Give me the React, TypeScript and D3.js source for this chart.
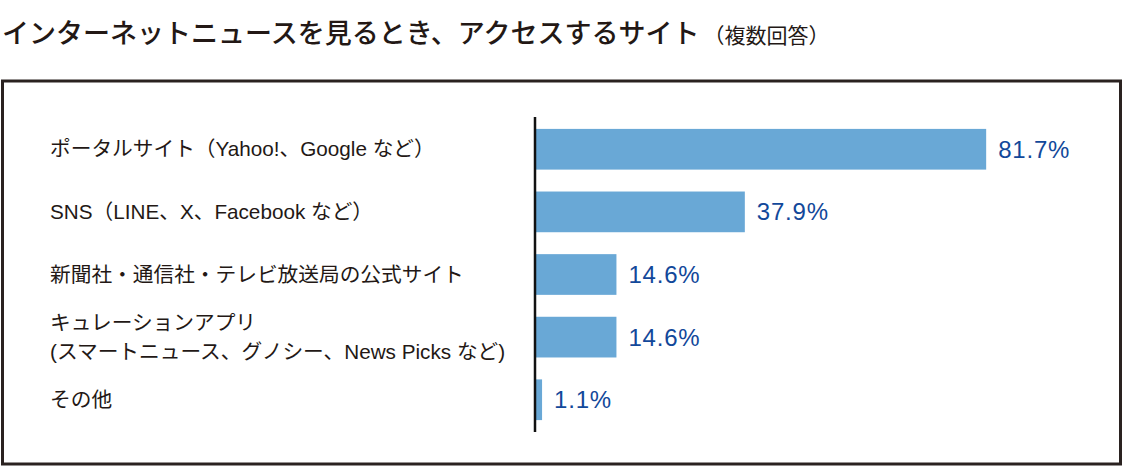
import React, { useEffect, useRef } from "react";
import * as d3 from "d3";

const categories = [
  "ポータルサイト（Yahoo!、Google など）",
  "SNS（LINE、X、Facebook など）",
  "新聞社・通信社・テレビ放送局の公式サイト",
  "キュレーションアプリ\n(スマートニュース、グノシー、News Picks など)",
  "その他",
];
const values = [81.7, 37.9, 14.6, 14.6, 1.1];

const title = "インターネットニュースを見るとき、アクセスするサイト";
const subtitle = "（複数回答）";

const App = () => {
  const svgRef = useRef<SVGSVGElement>(null);

  useEffect(() => {
    document.body.style.margin = "0";
    const svg = d3.select(svgRef.current);
    svg.selectAll("*").remove();

    const width = 1125;
    const height = 468;
    const jp = "'Noto Sans CJK JP', 'Noto Sans', sans-serif";
    const mixed = "'Liberation Sans', 'Noto Sans CJK JP', sans-serif";

    svg.append("rect").attr("width", width).attr("height", height).attr("fill", "#fff");

    // Title
    const t = svg
      .append("text")
      .attr("x", 2)
      .attr("y", 43)
      .attr("font-family", jp)
      .attr("font-weight", 500)
      .attr("fill", "#231815");
    t.append("tspan").attr("font-size", 27).text(title);
    t.append("tspan").attr("font-size", 21).attr("dx", 4).attr("font-weight", 400).text(subtitle);

    // Frame
    svg
      .append("rect")
      .attr("x", 2.5)
      .attr("y", 81)
      .attr("width", 1118)
      .attr("height", 383)
      .attr("fill", "none")
      .attr("stroke", "#2a2220")
      .attr("stroke-width", 3);

    // Scales
    const x = d3.scaleLinear().domain([0, 100]).range([536, 1087]);
    const y = d3
      .scaleBand()
      .domain(categories)
      .range([117, 432])
      .paddingInner(0.35)
      .paddingOuter(0.19);

    // Bars
    svg
      .append("g")
      .selectAll("rect")
      .data(values)
      .join("rect")
      .attr("x", x(0))
      .attr("y", (d, i) => y(categories[i])!)
      .attr("width", (d) => x(d) - x(0))
      .attr("height", y.bandwidth())
      .attr("fill", "#69a8d6");

    // Axis line
    svg
      .append("line")
      .attr("x1", x(0) - 1)
      .attr("x2", x(0) - 1)
      .attr("y1", 117)
      .attr("y2", 432)
      .attr("stroke", "#111")
      .attr("stroke-width", 2.5);

    // Category labels
    const labels = svg
      .append("g")
      .selectAll("text")
      .data(categories)
      .join("text")
      .attr("x", 50)
      .attr("font-family", mixed)
      .attr("font-size", 20.7)
      .attr("fill", "#231815")
      .attr("dominant-baseline", "central");
    labels.each(function (d) {
      const lines = d.split("\n");
      const cy = y(d)! + y.bandwidth() / 2 - 1;
      const lh = 29;
      d3.select(this)
        .selectAll("tspan")
        .data(lines)
        .join("tspan")
        .attr("x", 50)
        .attr("y", (l, j) => cy + (j - (lines.length - 1) / 2) * lh)
        .text((l) => l);
    });

    // Value labels
    svg
      .append("g")
      .selectAll("text")
      .data(values)
      .join("text")
      .attr("x", (d) => x(d) + 12)
      .attr("y", (d, i) => y(categories[i])! + y.bandwidth() / 2)
      .attr("dominant-baseline", "central")
      .attr("font-family", "'Liberation Sans', Arial, sans-serif")
      .attr("font-size", 24)
      .attr("letter-spacing", 0.8)
      .attr("fill", "#12489a")
      .text((d) => `${d.toFixed(1)}%`);
  }, []);

  return <svg ref={svgRef} width={1125} height={468} style={{ display: "block" }}></svg>;
};

export default App;
